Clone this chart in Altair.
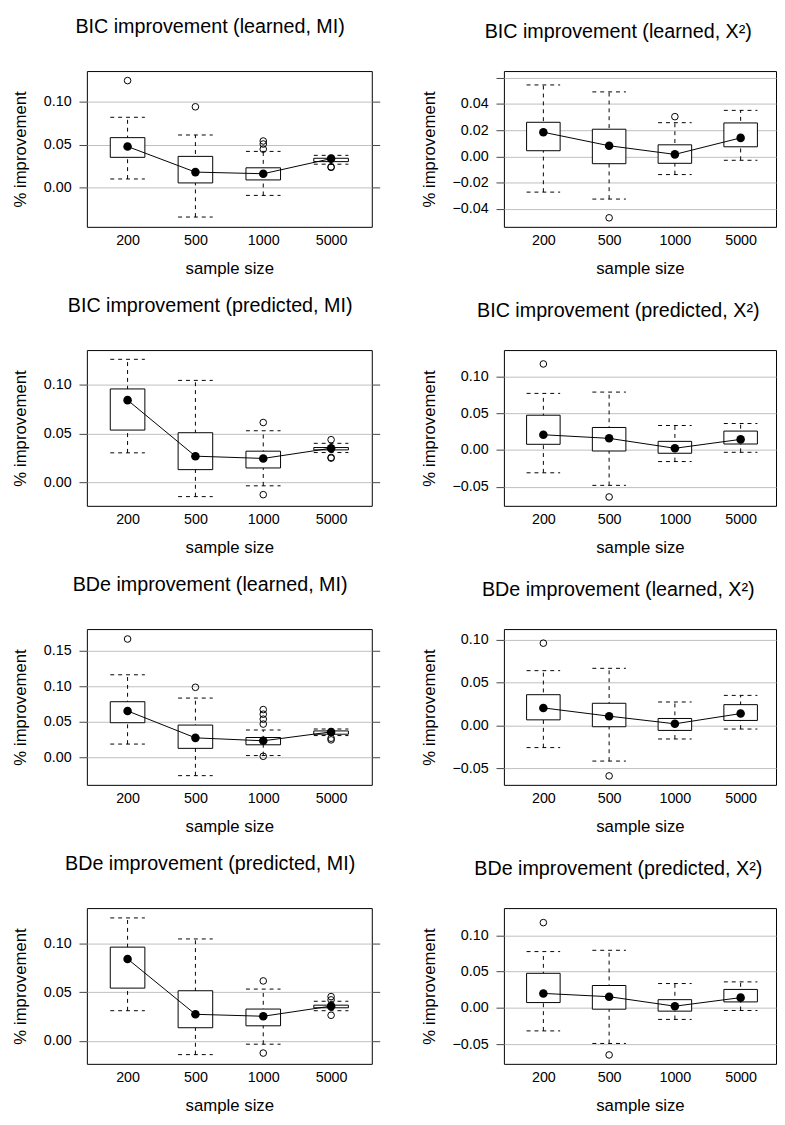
import json
import altair as alt
import pandas as pd

FONT = "Liberation Sans"
SIZES = ["200", "500", "1000", "5000"]

T1 = "BIC improvement (learned, MI)"
P1_WLO = [0.0103, -0.0340, -0.0088, 0.0275]
P1_Q1 = [0.0355, 0.0057, 0.0092, 0.0305]
P1_Q3 = [0.0584, 0.0366, 0.0233, 0.0344]
P1_WHI = [0.0821, 0.0615, 0.0424, 0.0378]
P1_MID = [0.0481, 0.0183, 0.0164, 0.0340]
P1_OUT = [[0.1248], [0.0943], [0.0545, 0.0510, 0.0450], [0.0245, 0.0238]]
P1_YDOM = [-0.0454, 0.1359]
P1_GRID = [0.0, 0.05, 0.10]
P1_LAB = [0.0, 0.05, 0.10]

T2 = "BIC improvement (learned, X²)"
P2_WLO = [-0.0273, -0.0326, -0.0139, -0.0030]
P2_Q1 = [0.0043, -0.0056, -0.0053, 0.0073]
P2_Q3 = [0.0260, 0.0207, 0.0088, 0.0255]
P2_WHI = [0.0545, 0.0492, 0.0257, 0.0351]
P2_MID = [0.0184, 0.0081, 0.0015, 0.0141]
P2_OUT = [[], [-0.0469], [0.0303], []]
P2_YDOM = [-0.0538, 0.0651]
P2_GRID = [-0.04, -0.02, 0.0, 0.02, 0.04, 0.06]
P2_LAB = [-0.04, -0.02, 0.0, 0.02, 0.04]

T3 = "BIC improvement (predicted, MI)"
P3_WLO = [0.0302, -0.0144, -0.0034, 0.0305]
P3_Q1 = [0.0534, 0.0131, 0.0148, 0.0332]
P3_Q3 = [0.0953, 0.0507, 0.0319, 0.0356]
P3_WHI = [0.1255, 0.1040, 0.0527, 0.0399]
P3_MID = [0.0839, 0.0268, 0.0245, 0.0349]
P3_OUT = [[], [], [0.0611, -0.0124], [0.0436, 0.0255, 0.0248]]
P3_YDOM = [-0.0238, 0.1349]
P3_GRID = [0.0, 0.05, 0.10]
P3_LAB = [0.0, 0.05, 0.10]

T4 = "BIC improvement (predicted, X²)"
P4_WLO = [-0.0311, -0.0482, -0.0158, -0.0032]
P4_Q1 = [0.0077, -0.0014, -0.0045, 0.0081]
P4_Q3 = [0.0473, 0.0306, 0.0117, 0.0257]
P4_WHI = [0.0770, 0.0788, 0.0333, 0.0360]
P4_MID = [0.0207, 0.0158, 0.0023, 0.0144]
P4_OUT = [[0.1171], [-0.0640], [], []]
P4_YDOM = [-0.0761, 0.1360]
P4_GRID = [-0.05, 0.0, 0.05, 0.10]
P4_LAB = [-0.05, 0.0, 0.05, 0.10]

T5 = "BDe improvement (learned, MI)"
P5_WLO = [0.0189, -0.0253, 0.0028, 0.0308]
P5_Q1 = [0.0488, 0.0129, 0.0179, 0.0327]
P5_Q3 = [0.0782, 0.0455, 0.0281, 0.0373]
P5_WHI = [0.1159, 0.0833, 0.0386, 0.0400]
P5_MID = [0.0653, 0.0276, 0.0235, 0.0359]
P5_OUT = [[0.1660], [0.0984], [0.0672, 0.0607, 0.0538, 0.0469, 0.0018], [0.0271, 0.0248]]
P5_YDOM = [-0.0382, 0.1799]
P5_GRID = [0.0, 0.05, 0.10, 0.15]
P5_LAB = [0.0, 0.05, 0.10, 0.15]

T6 = "BDe improvement (learned, X²)"
P6_WLO = [-0.0258, -0.0415, -0.0158, -0.0042]
P6_Q1 = [0.0065, -0.0015, -0.0058, 0.0058]
P6_Q3 = [0.0358, 0.0258, 0.0081, 0.0242]
P6_WHI = [0.0638, 0.0665, 0.0273, 0.0350]
P6_MID = [0.0204, 0.0108, 0.0019, 0.0138]
P6_OUT = [[0.0958], [-0.0588], [], []]
P6_YDOM = [-0.0692, 0.1122]
P6_GRID = [-0.05, 0.0, 0.05, 0.10]
P6_LAB = [-0.05, 0.0, 0.05, 0.10]

T7 = "BDe improvement (predicted, MI)"
P7_WLO = [0.0310, -0.0141, -0.0034, 0.0310]
P7_Q1 = [0.0542, 0.0135, 0.0155, 0.0340]
P7_Q3 = [0.0963, 0.0515, 0.0327, 0.0367]
P7_WHI = [0.1263, 0.1047, 0.0532, 0.0407]
P7_MID = [0.0842, 0.0273, 0.0253, 0.0357]
P7_OUT = [[], [], [0.0616, -0.0125], [0.0455, 0.0421, 0.0263]]
P7_YDOM = [-0.0236, 0.1364]
P7_GRID = [0.0, 0.05, 0.10]
P7_LAB = [0.0, 0.05, 0.10]

T8 = "BDe improvement (predicted, X²)"
P8_WLO = [-0.0317, -0.0490, -0.0159, -0.0036]
P8_Q1 = [0.0073, -0.0018, -0.0045, 0.0082]
P8_Q3 = [0.0476, 0.0308, 0.0113, 0.0254]
P8_WHI = [0.0775, 0.0793, 0.0335, 0.0358]
P8_MID = [0.0199, 0.0154, 0.0023, 0.0141]
P8_OUT = [[0.1174], [-0.0648], [], []]
P8_YDOM = [-0.0771, 0.1374]
P8_GRID = [-0.05, 0.0, 0.05, 0.10]
P8_LAB = [-0.05, 0.0, 0.05, 0.10]

HALF = 0.255
DASH = [4, 4]


def make_panel(title, wlo, q1, q3, whi, mid, outs, ydom, grid_vals, lab_vals,
               width, height, xdom, toff, tdx, ytx, right_ticks):
    pos = list(range(1, len(SIZES) + 1))
    stats = pd.DataFrame({"pos": pos, "wlo": wlo, "q1": q1, "q3": q3,
                          "whi": whi, "mid": mid})
    orows = [(p, v) for p, vs in zip(pos, outs) for v in vs]
    outdf = pd.DataFrame(orows, columns=["pos", "val"])

    xs = alt.Scale(domain=xdom, nice=False, zero=False)
    ys = alt.Scale(domain=ydom, nice=False, zero=False)

    xaxis = alt.Axis(
        orient="bottom", values=pos,
        labelExpr=f"{json.dumps(SIZES)}[datum.value - 1]",
        ticks=False, domain=False, grid=False,
        labelFont=FONT, labelFontSize=14.5, labelColor="black",
        labelBaseline="alphabetic", labelPadding=18,
        title="sample size", titleFont=FONT, titleFontSize=17,
        titleFontWeight="normal", titleColor="black",
        titleBaseline="alphabetic", titleY=47,
    )
    yaxis = alt.Axis(
        orient="left", values=grid_vals, format=".2f",
        labelExpr=f"indexof({json.dumps(lab_vals)}, datum.value) >= 0 ? datum.label : ''",
        grid=True, gridColor="#bfbfbf", gridWidth=1,
        ticks=True, tickSize=8, tickColor="#444444", domain=False,
        labelFont=FONT, labelFontSize=14.5, labelColor="black", labelPadding=8,
        title="% improvement", titleFont=FONT, titleFontSize=17,
        titleFontWeight="normal", titleColor="black",
        titleBaseline="alphabetic", titleX=ytx,
    )
    raxis = (alt.Axis(orient="right", values=grid_vals, labels=False,
                      ticks=True, tickSize=8, tickColor="#444444",
                      domain=False, grid=False, title=None)
             if right_ticks else None)

    def X(field):
        return alt.X(field, scale=xs, axis=xaxis)

    base = alt.Chart(stats)
    withx = base.transform_calculate(xl=f"datum.pos - {HALF}",
                                     xr=f"datum.pos + {HALF}")

    whisk = base.mark_rule(color="black", strokeWidth=1, strokeDash=DASH).encode(
        x=X("pos:Q"), y=alt.Y("wlo:Q", scale=ys, axis=yaxis), y2="whi:Q")
    cap_lo = withx.mark_rule(color="black", strokeWidth=1, strokeDash=DASH).encode(
        x=X("xl:Q"), x2="xr:Q", y=alt.Y("wlo:Q", scale=ys, axis=None))
    cap_hi = withx.mark_rule(color="black", strokeWidth=1, strokeDash=DASH).encode(
        x=X("xl:Q"), x2="xr:Q", y=alt.Y("whi:Q", scale=ys, axis=None))
    box = withx.mark_bar(fill="white", stroke="black", strokeWidth=1,
                         cornerRadius=0).encode(
        x=X("xl:Q"), x2="xr:Q",
        y=alt.Y("q1:Q", scale=ys, axis=None), y2="q3:Q")
    line = base.mark_line(color="black", strokeWidth=1).encode(
        x=X("pos:Q"), y=alt.Y("mid:Q", scale=ys, axis=raxis))
    pts = base.mark_point(filled=True, color="black", size=75, opacity=1).encode(
        x=X("pos:Q"), y=alt.Y("mid:Q", scale=ys, axis=None))
    outl = alt.Chart(outdf).mark_point(shape="circle", filled=False, color="black",
                                       strokeWidth=1, size=45, opacity=1).encode(
        x=X("pos:Q"), y=alt.Y("val:Q", scale=ys, axis=None))
    return alt.layer(whisk, cap_lo, cap_hi, box, line, pts, outl).resolve_axis(
        y="independent"
    ).properties(
        width=width, height=height,
        title=alt.TitleParams(text=title, font=FONT, fontSize=20,
                              fontWeight="normal", color="black",
                              anchor="middle", frame="group",
                              baseline="alphabetic", offset=toff, dx=tdx),
    )


LW, RW, PH = 289, 276, 158
LXDOM = [0.4, 4.6]
RXDOM = [0.4, 4.538]

left_specs = [
    (T1, P1_WLO, P1_Q1, P1_Q3, P1_WHI, P1_MID, P1_OUT, P1_YDOM, P1_GRID, P1_LAB),
    (T3, P3_WLO, P3_Q1, P3_Q3, P3_WHI, P3_MID, P3_OUT, P3_YDOM, P3_GRID, P3_LAB),
    (T5, P5_WLO, P5_Q1, P5_Q3, P5_WHI, P5_MID, P5_OUT, P5_YDOM, P5_GRID, P5_LAB),
    (T7, P7_WLO, P7_Q1, P7_Q3, P7_WHI, P7_MID, P7_OUT, P7_YDOM, P7_GRID, P7_LAB),
]
right_specs = [
    (T2, P2_WLO, P2_Q1, P2_Q3, P2_WHI, P2_MID, P2_OUT, P2_YDOM, P2_GRID, P2_LAB),
    (T4, P4_WLO, P4_Q1, P4_Q3, P4_WHI, P4_MID, P4_OUT, P4_YDOM, P4_GRID, P4_LAB),
    (T6, P6_WLO, P6_Q1, P6_Q3, P6_WHI, P6_MID, P6_OUT, P6_YDOM, P6_GRID, P6_LAB),
    (T8, P8_WLO, P8_Q1, P8_Q3, P8_WHI, P8_MID, P8_OUT, P8_YDOM, P8_GRID, P8_LAB),
]

left_panels = [make_panel(*s, width=LW, height=PH, xdom=LXDOM, toff=19,
                          tdx=-19.5, ytx=-62.5, right_ticks=True)
               for s in left_specs]
right_panels = [make_panel(*s, width=RW, height=PH, xdom=RXDOM, toff=14,
                           tdx=-22, ytx=-70.5, right_ticks=False)
                for s in right_specs]

left_col = alt.vconcat(*left_panels, spacing=125, bounds="flush")
right_col = alt.vconcat(*right_panels, spacing=125, bounds="flush")

chart = alt.hconcat(left_col, right_col, spacing=39).properties(
    padding={"left": 2, "top": 0, "right": 0, "bottom": 0}
).configure(
    font=FONT,
    view=alt.ViewConfig(stroke="black", strokeWidth=1),
)

chart.save("out.html", embed_options={"renderer": "svg", "actions": False})
